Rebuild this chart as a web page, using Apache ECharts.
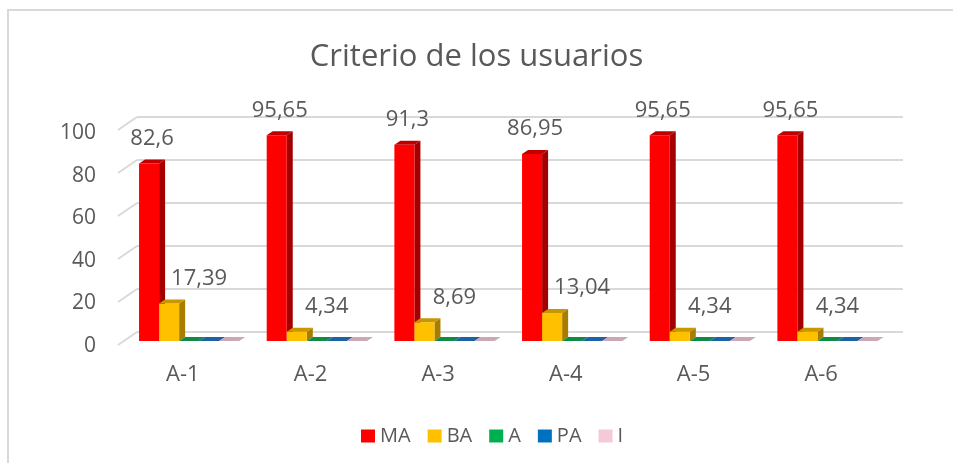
<!DOCTYPE html>
<html>
<head>
<meta charset="utf-8">
<script src="https://cdn.jsdelivr.net/npm/echarts@6/dist/echarts.min.js"></script>
<style>
  html, body { margin: 0; padding: 0; background: #fff; }
  #chart { width: 953px; height: 463px; }
</style>
</head>
<body>
<div id="chart"></div>
<script>
const categories = ['A-1', 'A-2', 'A-3', 'A-4', 'A-5', 'A-6'];
const seriesNames = ['MA', 'BA', 'A', 'PA', 'I'];
const valuesMA = [82.6, 95.65, 91.3, 86.95, 95.65, 95.65];
const valuesBA = [17.39, 4.34, 8.69, 13.04, 4.34, 4.34];
const valuesA = [0, 0, 0, 0, 0, 0];
const valuesPA = [0, 0, 0, 0, 0, 0];
const valuesI = [0, 0, 0, 0, 0, 0];
const yTicks = [0, 20, 40, 60, 80, 100];

const seriesValues = [valuesMA, valuesBA, valuesA, valuesPA, valuesI];

// front / side / top colours for the fake 3d columns
const faceColors = ['#ff0000', '#ffc000', '#00b050', '#0070c0', '#f6c9d8'];
const sideColors = ['#a50000', '#a67d00', '#007a38', '#004f88', '#b59aa5'];
const topColors = ['#c00000', '#c79600', '#0e8c46', '#1d62a4', '#c9a9b6'];
// where each series puts its value label, relative to the column
const labelShift = [[3, -25], [30, -25], [0, 0], [0, 0], [0, 0]];

const font = '"Open Sans", sans-serif';
const textColor = '#595959';
const depth = [6, -4];

function columnRenderer(sIdx) {
  return function (params, api) {
    const idx = api.value(0);
    const v = api.value(1);
    const base = api.coord([idx, 0]);
    const top = api.coord([idx, v]);
    const band = api.size([1, 0])[0];
    const w = band * 0.157;
    const x0 = base[0] - band / 2 + w + sIdx * w;
    const x1 = x0 + w;
    const [dx, dy] = depth;
    const children = [
      {
        type: 'polygon',
        shape: { points: [[x1, top[1]], [x1 + dx, top[1] + dy], [x1 + dx, base[1] + dy], [x1, base[1]]] },
        style: { fill: sideColors[sIdx] },
      },
      {
        type: 'rect',
        shape: { x: x0, y: top[1], width: w, height: base[1] - top[1] },
        style: { fill: faceColors[sIdx] },
      },
      {
        type: 'polygon',
        shape: { points: [[x0, top[1]], [x0 + dx, top[1] + dy], [x1 + dx, top[1] + dy], [x1, top[1]]] },
        style: { fill: topColors[sIdx] },
      },
    ];
    if (v > 0) {
      children.push({
        type: 'text',
        x: x0 + w / 2 + labelShift[sIdx][0],
        y: top[1] + labelShift[sIdx][1],
        style: {
          text: String(v).replace('.', ','),
          fill: textColor,
          font: '22px ' + font,
          align: 'center',
          verticalAlign: 'middle',
        },
      });
    }
    return { type: 'group', children };
  };
}

const chart = echarts.init(document.getElementById('chart'));

const columnSeries = seriesNames.map((name, sIdx) => ({
  name,
  type: 'custom',
  xAxisIndex: 1,
  yAxisIndex: 1,
  itemStyle: { color: faceColors[sIdx] },
  renderItem: columnRenderer(sIdx),
  encode: { x: 0, y: 1 },
  data: seriesValues[sIdx].map((v, i) => [i, v]),
  z: 3,
}));

chart.setOption({
  animation: false,
  backgroundColor: '#fff',
  graphic: [
    {
      type: 'rect',
      shape: { x: 8, y: 10, width: 1000, height: 500 },
      style: { fill: 'none', stroke: '#d9d9d9', lineWidth: 2 },
    },
  ],
  title: {
    text: 'Criterio de los usuarios',
    left: 'center',
    top: 37,
    textStyle: { fontFamily: font, fontSize: 31, fontWeight: 'normal', color: textColor },
  },
  legend: {
    data: seriesNames,
    left: 356,
    top: 421,
    icon: 'rect',
    itemWidth: 14,
    itemHeight: 13,
    itemGap: 17,
    textStyle: { fontFamily: font, fontSize: 20, color: textColor },
  },
  grid: [
    // back wall with gridlines
    { left: 137, right: 50, top: 117, bottom: 131 },
    // front plane of the columns
    { left: 119, right: 68, top: 126, bottom: 122 },
    // plane of the value labels
    { left: 118, right: 50, top: 133, bottom: 117 },
  ],
  xAxis: [
    { gridIndex: 0, type: 'value', min: 0, max: 1, show: false },
    {
      gridIndex: 1,
      type: 'category',
      data: categories,
      axisLine: { show: false },
      axisTick: { show: false },
      axisLabel: { margin: 23, fontFamily: font, fontSize: 22, color: textColor },
    },
    { gridIndex: 2, type: 'value', min: 0, max: 1, show: false },
  ],
  yAxis: [
    {
      gridIndex: 0,
      type: 'value',
      min: 0,
      max: 100,
      interval: 20,
      axisLabel: { show: false },
      axisLine: { show: false },
      axisTick: { show: false },
      splitLine: { lineStyle: { color: '#d9d9d9', width: 2 } },
    },
    { gridIndex: 1, type: 'value', min: 0, max: 100, show: false },
    {
      gridIndex: 2,
      type: 'value',
      min: 0,
      max: 100,
      interval: 20,
      axisLine: { show: false },
      axisTick: { show: false },
      splitLine: { show: false },
      axisLabel: { margin: 22, fontFamily: font, fontSize: 21, color: textColor },
    },
  ],
  series: [
    {
      type: 'custom',
      xAxisIndex: 0,
      yAxisIndex: 0,
      silent: true,
      data: yTicks.map(t => [0, t]),
      encode: { x: 0, y: 1 },
      renderItem(params, api) {
        const p = api.coord([0, api.value(1)]);
        return {
          type: 'line',
          shape: { x1: p[0] - 19, y1: p[1] + 13, x2: p[0], y2: p[1] },
          style: { stroke: '#d9d9d9', lineWidth: 2 },
        };
      },
      z: 1,
    },
    ...columnSeries,
  ],
});
</script>
</body>
</html>
